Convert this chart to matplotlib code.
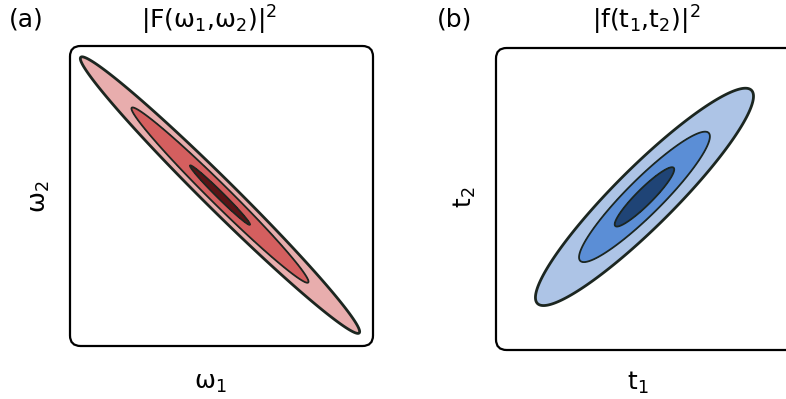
import numpy as np
import matplotlib.pyplot as plt
from matplotlib.patches import FancyBboxPatch

plt.rcParams['font.family'] = 'DejaVu Sans'
plt.rcParams['mathtext.fontset'] = 'dejavusans'
plt.rcParams['mathtext.default'] = 'regular'

# joint spectral amplitude (a) and joint temporal amplitude (b)
# center (axes fraction), major-axis angle (deg), sigma along / across major axis
freq_center = [0.495, 0.503]
freq_angle = -45
freq_sigma = [0.2655, 0.021]
freq_levels = [0.05, 0.30, 0.87]

time_center = [0.49, 0.507]
time_angle = 45
time_sigma = [0.204, 0.040]
time_levels = [0.05, 0.34, 0.80]

red_fills = ['#e8adad', '#d45f5f', '#5a1416']
blue_fills = ['#adc4e6', '#5b8ed6', '#1f4476']
edge = '#1c2620'


def gaussian(center, angle, sigma, n=500):
    x = np.linspace(0, 1, n)
    X, Y = np.meshgrid(x, x)
    th = np.deg2rad(angle)
    dx, dy = X - center[0], Y - center[1]
    u = dx * np.cos(th) + dy * np.sin(th)
    v = -dx * np.sin(th) + dy * np.cos(th)
    return X, Y, np.exp(-u**2 / (2 * sigma[0]**2) - v**2 / (2 * sigma[1]**2))


def panel(rect, center, angle, sigma, levels, fills, title, tag, xlab, ylab):
    ax = fig.add_axes(rect)
    ax.set_xlim(0, 1)
    ax.set_ylim(0, 1)
    ax.axis('off')
    box = FancyBboxPatch((0, 0), 1, 1, boxstyle='round,pad=0,rounding_size=0.035',
                         transform=ax.transAxes, facecolor='white', edgecolor='black',
                         linewidth=1.6, clip_on=False, zorder=0)
    ax.add_patch(box)
    X, Y, Z = gaussian(center, angle, sigma)
    ax.contourf(X, Y, Z, levels=levels + [1.1], colors=fills, zorder=1)
    ax.contour(X, Y, Z, levels=levels, colors=edge, linewidths=[2.0, 1.3, 1.3], zorder=2)

    x0, y0, w, h = rect
    fig.text(title[0], 0.95, title[1], ha='center', va='center', fontsize=18)
    fig.text(tag[0], 0.95, tag[1], ha='center', va='center', fontsize=18)
    fig.text(xlab[0], 0.04, xlab[1], ha='center', va='center', fontsize=18)
    fig.text(ylab[0], 1 - 197 / 399, ylab[1], ha='center', va='center', fontsize=18, rotation=90)
    return ax


fig = plt.figure(figsize=(7.86, 3.99), dpi=100)

panel([70 / 786, 53 / 399, 303 / 786, 300 / 399], freq_center, freq_angle, freq_sigma,
      freq_levels, red_fills, (209 / 786, r'$|F(\omega_1{,}\omega_2)|^2$'), (26 / 786, '(a)'),
      (210 / 786, r'$\omega_1$'), (40 / 786, r'$\omega_2$'))
panel([496 / 786, 49 / 399, 303 / 786, 302 / 399], time_center, time_angle, time_sigma,
      time_levels, blue_fills, (646 / 786, r'$|f(t_1{,}t_2)|^2$'), (455 / 786, '(b)'),
      (638 / 786, r'$t_1$'), (465 / 786, r'$t_2$'))

fig.savefig('out.png', dpi=100)
